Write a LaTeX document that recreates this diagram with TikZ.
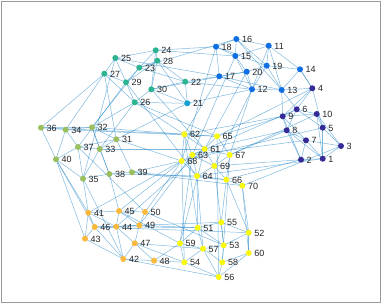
\documentclass[tikz,border=0pt]{standalone}
\usepackage{fontspec}
\setmainfont{Liberation Sans}
\usepackage{xcolor}
\usetikzlibrary{positioning}
\pgfdeclarelayer{background}
\pgfsetlayers{background,main}

\definecolor{cPur}{RGB}{54,42,150}
\definecolor{cBlu}{RGB}{15,110,225}
\definecolor{cCya}{RGB}{20,160,210}
\definecolor{cTea}{RGB}{44,180,145}
\definecolor{cOli}{RGB}{155,190,95}
\definecolor{cOra}{RGB}{252,185,60}
\definecolor{cYel}{RGB}{248,248,16}
\definecolor{cEdge}{RGB}{0,114,189}

\begin{document}
\begin{tikzpicture}[
  x=1pt, y=-1pt,
  font=\fontsize{9}{10}\selectfont,
  vtx/.style={circle, inner sep=0pt, minimum size=6pt, label={[label distance=-1pt, text=black!85, yshift=-0.5pt]right:#1}},
  gedge/.style={draw=cEdge, draw opacity=0.5, line width=0.5pt}
]
  \useasboundingbox (0,0) rectangle (382,304);
  \draw[gray!80, line width=0.8pt] (1.5,1.5) rectangle (380.5,302.5);

  % vertices
  \foreach \n/\x/\y/\c in {
    1/322.7/158.7/cPur, 2/301/159.7/cPur, 3/341/146/cPur, 4/312.3/88.3/cPur, 5/322.7/127.7/cPur,
    6/296.7/109.3/cPur, 7/306/140.3/cPur, 8/286.7/130.3/cPur, 9/282.7/116.3/cPur, 10/316.7/114/cPur,
    11/268.7/45.7/cBlu, 12/252/89.3/cBlu, 13/281.7/90/cBlu, 14/300/69.3/cBlu, 15/235.3/56/cBlu,
    16/236.3/39/cBlu, 17/219.3/76.3/cBlu, 18/216/46.7/cBlu, 19/266.7/65.7/cBlu, 20/246.7/71.7/cBlu,
    21/187.3/103.3/cCya, 22/185.3/81.7/cTea, 23/139.3/67.7/cTea, 24/155.7/50.3/cTea, 25/115.3/58/cTea,
    26/134.7/102.3/cTea, 27/104.3/73.7/cTea, 28/157.3/60.7/cTea, 29/126/82.3/cTea, 30/151.3/89.3/cTea,
    31/116.3/139.3/cOli, 32/92/127.3/cOli, 33/99.7/149/cOli, 34/65.7/129.7/cOli, 35/83/178.7/cOli,
    36/41/127.7/cOli, 37/78/147/cOli, 38/109.3/174/cOli, 39/132/172.3/cOli, 40/56/159.3/cOli,
    41/88.3/212.7/cOra, 42/123.3/259/cOra, 43/85/238.7/cOra, 44/116.3/226.7/cOra, 45/119/211/cOra,
    46/94.7/227/cOra, 47/134.7/243.3/cOra, 48/154/260.7/cOra, 49/139.3/225.3/cOra, 50/145/212/cOra,
    51/197.7/227.7/cYel, 52/248.7/232.7/cYel, 53/223.7/245.3/cYel, 54/184.3/262.3/cYel, 55/221.3/222.3/cYel,
    56/218.7/277/cYel, 57/203/248.7/cYel, 58/222.3/262.3/cYel, 59/180/243.3/cYel, 60/248.7/253/cYel,
    61/204.7/149/cYel, 62/184.3/134.3/cYel, 63/192.3/155/cYel, 64/197/176/cYel, 65/217/136.3/cYel,
    66/226.3/179.7/cYel, 67/229.7/155/cYel, 68/181.7/161/cYel, 69/214.3/166/cYel, 70/242.3/185.7/cYel}
    \node[vtx=\n, fill=\c] (n\n) at (\x,\y) {};

  % edges
  \begin{pgfonlayer}{background}
  \foreach \a/\b in {
    1/2,1/3,1/5,1/7,1/8,1/10,2/7,2/9,2/8,3/5,3/7,4/6,4/9,4/5,4/13,5/6,5/10,6/9,6/10,6/8,
    7/8,7/9,8/9,9/10,4/14,3/10,
    11/16,11/19,11/14,11/15,11/13,12/20,12/17,12/15,12/13,13/14,13/19,14/19,15/16,15/18,
    15/20,16/18,17/18,17/20,18/19,19/20,16/19,12/11,
    21/22,21/26,22/23,22/30,23/24,23/25,23/29,24/25,24/28,25/27,25/29,26/29,26/27,27/29,
    28/29,28/30,24/30,23/28,21/30,26/30,
    31/32,31/33,31/37,32/34,32/36,32/33,33/35,33/37,33/38,34/36,34/37,34/40,35/38,35/40,
    36/40,37/40,38/39,39/31,35/37,32/38,
    41/45,41/46,41/43,42/43,42/46,42/47,42/48,43/46,44/45,44/46,44/49,44/47,45/50,45/49,
    46/49,47/48,47/49,49/50,41/44,42/44,
    51/55,51/57,51/59,52/53,52/55,52/60,53/57,53/58,53/55,54/56,54/57,54/59,56/58,56/57,
    57/59,58/60,51/53,58/57,56/60,
    61/62,61/63,61/65,61/67,61/69,62/68,62/63,63/68,63/64,64/69,64/66,65/67,66/69,66/70,
    67/69,68/64,69/63,65/62,67/66,
    36/27,40/43,40/41,34/27,32/26,32/62,36/62,34/65,31/68,33/26,37/29,40/46,35/42,35/41,
    38/45,38/64,39/66,39/68,39/70,33/61,37/50,31/21,32/23,
    26/62,26/65,30/61,29/64,28/21,24/18,24/15,25/17,23/16,28/22,22/17,21/12,22/12,30/20,
    27/31,25/35,
    17/62,18/68,15/63,20/61,12/67,12/69,13/6,13/9,14/4,19/12,17/13,16/13,
    9/62,9/65,8/61,6/63,10/67,5/68,2/66,2/69,1/64,7/63,3/70,4/65,8/67,
    62/51,63/59,68/41,68/45,68/54,64/51,64/57,69/53,66/55,66/52,70/60,70/52,67/58,65/56,
    61/59,63/49,61/44,
    45/59,49/51,49/55,47/54,48/54,42/56,48/59,46/52,44/51,50/53,50/68,47/57}
    \draw[gedge] (n\a.center) -- (n\b.center);
  \draw[gedge] (n70.center) to[out=5, in=-75, looseness=14] (n70.center);
  \end{pgfonlayer}
\end{tikzpicture}
\end{document}
